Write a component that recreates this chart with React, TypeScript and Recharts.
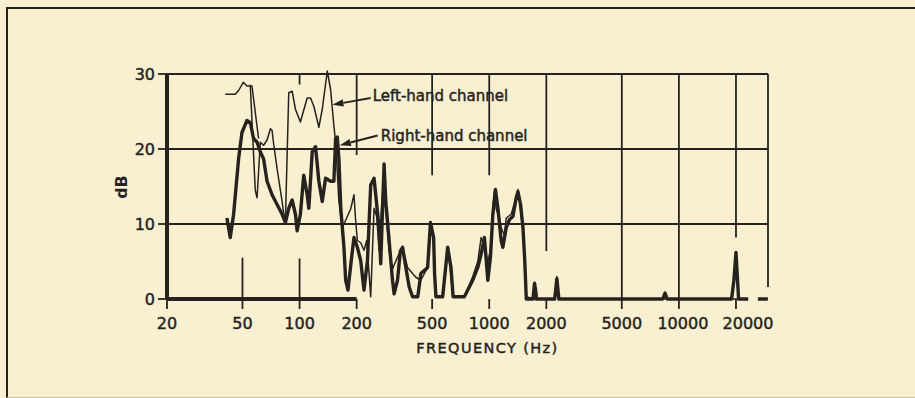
import React from 'react';
import { LineChart, Line, XAxis, YAxis, ReferenceLine, ReferenceDot, Label } from 'recharts';

const INK = '#26231e';
const PAPER = '#f9f0d1';
const FONT = '"DejaVu Sans", sans-serif';
const TEXT_STROKE = 0.45;

// Axis values
const frequencyTicks = [20, 50, 100, 200, 500, 1000, 2000, 5000, 10000, 20000];
const dbTicks = [0, 10, 20, 30];
const freqDomain: [number, number] = [20, 29500];
const dbDomain: [number, number] = [0, 30];

// Right-hand channel (thick trace): [frequency Hz, dB]
const rightHandChannel: [number, number | null][] = [
  [41.4, 10.8], [43.1, 8.2], [44.9, 11.3], [47.7, 18.7], [49.7, 22.2], [52.8, 23.8],
  [55.0, 23.5], [57.2, 21.4], [59.7, 20.9], [62.1, 19.6], [64.6, 18.7], [67.4, 15.7],
  [71.6, 13.9], [76.1, 12.6], [80.9, 11.3], [84.2, 10.2], [87.7, 12.1], [91.4, 13.2],
  [95.1, 11.3], [97.1, 9.1], [101, 11.3], [105.2, 16.5], [109.7, 13.9], [111.9, 12.1],
  [116.6, 19.6], [121.4, 20.3], [126.4, 15.7], [131.7, 13.0], [137.1, 16.1], [145.8, 15.7],
  [151.7, 15.7], [154.9, 21.4], [158.1, 21.6], [161.2, 18.7], [165, 12.0], [171.4, 6.9],
  [175, 2.5], [180, 1.2], [188, 5.5], [193.6, 8.2], [201.7, 6.9], [210.1, 5.1],
  [218.6, 1.2], [228, 5.1], [237.2, 15.2], [247, 16.1], [262.4, 9.5], [267.9, 4.7],
  [279, 18.0], [284.8, 13.0], [290.7, 10.4], [296.5, 7.8], [309.1, 2.5], [315.1, 0.7],
  [328.4, 2.5], [340, 6.4], [349.1, 6.9], [363.4, 4.2], [378.3, 1.6], [394.3, 0.3],
  [420, 0.3], [436.2, 3.4], [473.3, 4.2], [490, 10.2], [509.2, 8.2], [515, 3.4],
  [523.6, 0.3], [568.2, 0.3], [603.9, 6.9], [628.7, 4.2], [645, 0.3], [739.4, 0.3],
  [818.9, 2.5], [870.4, 4.2], [906.2, 6.0], [943.2, 8.2], [983.1, 2.5], [1015, 5.6],
  [1045, 11.3], [1078, 14.6], [1111, 12.1], [1156, 7.8], [1180, 6.9], [1229, 9.5],
  [1279, 10.6], [1333, 11.0], [1388, 13.5], [1417, 14.3], [1463, 12.6], [1506, 9.5],
  [1536, 5.6], [1549, 3.4], [1568, 0], [1701, 0], [1734, 2.1], [1771, 0],
  [2213, 0], [2273, 2.7], [2329, 0], [8220, 0], [8453, 0.8], [8682, 0],
  [18960, 0], [19500, 2.5], [20000, 6.2], [20290, 3.4], [20640, 0], [23180, 0],
  [24500, null], [26080, 0], [29450, 0],
];

// Left-hand channel (thin trace): [frequency Hz, dB]
const leftHandChannel: [number, number | null][] = [
  [40.5, 27.3], [45.8, 27.3], [47.7, 27.8], [50.5, 28.9], [52.8, 28.4], [55.0, 28.4],
  [58.4, 14.5], [59.7, 13.5], [62.1, 20.9], [64.6, 20.5], [67.4, 21.2], [70.2, 22.7],
  [71.6, 22.5], [72.8, 20.9], [76.1, 17.4], [80.9, 13.0], [82.5, 11.3], [84.2, 10.4],
  [87.7, 27.5], [91.4, 27.7], [95.1, 25.3], [101, 23.6], [109.7, 26.8], [114.2, 26.8],
  [118.9, 25.7], [126.4, 22.9], [131.7, 25.3], [140, 30.4], [145.8, 27.9], [151.7, 23.1],
  [154.9, 20.9], [161.2, 13.0], [168.1, 9.5], [178.6, 11.0], [186, 12.0], [193.6, 13.9],
  [197.6, 10.4], [201.7, 7.8], [210.1, 7.5], [218.6, 6.5], [226, 7.8], [237.2, 0.3],
  [247, 12.1], [255, 11.0], [262.4, 6.5], [270, 12.0], [279, 17.0], [284.8, 12.0],
  [296.5, 6.5], [309.1, 4.0], [328.4, 5.6], [349.1, 6.9], [371, 4.2], [394.3, 3.4],
  [410.5, 2.9], [436.2, 2.5], [473.3, 4.2], [492.7, 10.0], [509.2, 7.8], [523.6, 0.5],
  [568.2, 0.3], [603.9, 6.9], [628.7, 3.0], [641.8, 0.3], [739.4, 0.3], [818.9, 3.0],
  [870.4, 5.0], [906.2, 8.2], [943.2, 7.0], [983.1, 5.0], [1015, 6.5], [1045, 12.0],
  [1065, 14.3], [1088, 12.0], [1132, 10.8], [1156, 9.5], [1203, 8.5], [1229, 10.8],
  [1306, 11.3], [1359, 12.8], [1417, 14.6], [1445, 13.5], [1475, 11.0], [1506, 9.5],
  [1549, 4.0], [1568, 0.3], [1734, 0], [1771, 1.5], [1790, 0], [2213, 0],
  [2273, 3.0], [2329, 0], [23180, 0],
];

// Short stray stroke of the left-hand pen near 55-60 Hz
const leftHandStub: [number, number][] = [[54.5, 28.5], [56.1, 28.4], [60.8, 21.4]];

// Grid rulings: [frequency, dB from, dB to]
const verticalRulings: [number, number, number][] = [
  [50, 0, 5.5], [100, 0, 5.4], [100, 28.6, 30], [200, 19.2, 30], [500, 16.5, 30],
  [1000, 16.5, 30], [2000, 6.4, 30], [5000, 0, 30], [10000, 0, 30], [20000, 8.2, 30],
  [29500, 1.6, 30],
];
const horizontalRulings = [10, 20, 30];

// Annotations: label anchor, arrow tail, arrow tip (frequency, dB)
const annotations = [
  { text: 'Left-hand channel', at: [243, 27.1], tail: [237, 26.8], tip: [149, 25.9] },
  { text: 'Right-hand channel', at: [268, 21.7], tail: [258, 21.8], tip: [163, 20.5] },
];

const toRows = (pts: [number, number | null][]) => pts.map(([f, db]) => ({ f, db }));
const rightRows = toRows(rightHandChannel);
const leftRows = toRows(leftHandChannel);
const stubRows = toRows(leftHandStub);

const tickNudge: Record<number, number> = { 10000: 4, 20000: 12 };

const XTick = (props: any) => {
  const { x, y, payload } = props;
  return (
    <text x={x + (tickNudge[payload.value] || 0)} y={y} dy={13.5} textAnchor="middle"
      fill={INK} stroke={INK} strokeWidth={TEXT_STROKE} fontSize={16} fontFamily={FONT}>{payload.value}</text>
  );
};

const YTick = (props: any) => {
  const { x, y, payload } = props;
  return (
    <text x={x} y={y} dy={5.6} textAnchor="end" fill={INK} stroke={INK} strokeWidth={TEXT_STROKE}
      fontSize={16} fontFamily={FONT}>
      {payload.value}
    </text>
  );
};

const ArrowShape = (props: any) => {
  const { x1, y1, x2, y2 } = props;
  const ang = Math.atan2(y2 - y1, x2 - x1);
  const L = 11, W = 3.6;
  const bx = x2 - L * Math.cos(ang), by = y2 - L * Math.sin(ang);
  const px = -Math.sin(ang) * W, py = Math.cos(ang) * W;
  return (
    <g>
      <line x1={x1} y1={y1} x2={bx} y2={by} stroke={INK} strokeWidth={1.9} />
      <polygon points={`${x2},${y2} ${bx + px},${by + py} ${bx - px},${by - py}`} fill={INK} />
    </g>
  );
};

const makeTextShape = (text: string) => (props: any) => (
  <text x={props.cx} y={props.cy} dy={5} fill={INK} stroke={INK} strokeWidth={TEXT_STROKE}
    fontSize={15} fontFamily={FONT}>{text}</text>
);

export default function App() {
  return (
    <div style={{ position: 'absolute', left: 0, top: 0, width: 915, height: 398, background: PAPER, overflow: 'hidden' }}>
      <div style={{ position: 'absolute', left: 6, top: 7, width: 915, height: 388, borderTop: `2px solid ${INK}`, borderLeft: `2px solid ${INK}`, borderBottom: '1px solid #cfc4a0' }} />
      <div style={{ position: 'absolute', left: 0, top: 0 }}>
        <LineChart width={915} height={398} margin={{ top: 71, right: 147, bottom: 59, left: 127 }}>
          <XAxis dataKey="f" type="number" scale="log" domain={freqDomain} ticks={frequencyTicks}
            allowDataOverflow axisLine={false} tickSize={10} tickMargin={6} height={40}
            tickLine={{ stroke: INK, strokeWidth: 1.8 }} tick={<XTick />} interval={0}>
            <Label content={(p: any) => {
              const vb = p.viewBox || { x: 167, y: 299, width: 601, height: 40 };
              return (
                <text x={vb.x + vb.width / 2 + 20} y={353} textAnchor="middle" fill={INK}
                  stroke={INK} strokeWidth={TEXT_STROKE}
                  fontSize={14.5} letterSpacing={1.4} fontFamily={FONT}>FREQUENCY (Hz)</text>
              );
            }} />
          </XAxis>
          <YAxis type="number" domain={dbDomain} ticks={dbTicks} width={40} axisLine={false}
            tickSize={9} tickMargin={3} tickLine={{ stroke: INK, strokeWidth: 1.8 }} tick={<YTick />}>
            <Label content={(p: any) => {
              const vb = p.viewBox || { x: 127, y: 71, width: 40, height: 228 };
              const cx = vb.x - 6, cy = vb.y + vb.height / 2 + 2;
              return (
                <text x={cx} y={cy} transform={`rotate(-90 ${cx} ${cy})`} textAnchor="middle"
                  dy={5.5} fill={INK} fontSize={16} fontWeight="bold" fontFamily={FONT}>dB</text>
              );
            }} />
          </YAxis>

          {horizontalRulings.map((v) => (
            <ReferenceLine key={`h${v}`} y={v} stroke={INK} strokeWidth={2} ifOverflow="visible" />
          ))}
          {verticalRulings.map(([f, a, b], i) => (
            <ReferenceLine key={`v${i}`} segment={[{ x: f, y: a }, { x: f, y: b }]} stroke={INK}
              strokeWidth={1.8} ifOverflow="visible" />
          ))}
          <ReferenceLine segment={[{ x: 20, y: 0 }, { x: 20, y: 30 }]} stroke={INK} strokeWidth={4} ifOverflow="visible" />
          <ReferenceLine segment={[{ x: 20, y: 0 }, { x: 200, y: 0 }]} stroke={INK} strokeWidth={4} ifOverflow="visible" />

          <Line data={rightRows} dataKey="db" type="linear" stroke={INK} strokeWidth={3.4}
            dot={false} isAnimationActive={false} connectNulls={false} strokeLinejoin="round" />
          <Line data={leftRows} dataKey="db" type="linear" stroke={INK} strokeWidth={1.5}
            dot={false} isAnimationActive={false} strokeLinejoin="round" />
          <Line data={stubRows} dataKey="db" type="linear" stroke={INK} strokeWidth={1.5}
            dot={false} isAnimationActive={false} />

          {annotations.map((a, i) => (
            <ReferenceLine key={`a${i}`} segment={[{ x: a.tail[0], y: a.tail[1] }, { x: a.tip[0], y: a.tip[1] }]}
              ifOverflow="visible" shape={ArrowShape} />
          ))}
          {annotations.map((a, i) => (
            <ReferenceDot key={`t${i}`} x={a.at[0]} y={a.at[1]} r={0} ifOverflow="visible"
              shape={makeTextShape(a.text)} />
          ))}
        </LineChart>
      </div>
    </div>
  );
}
